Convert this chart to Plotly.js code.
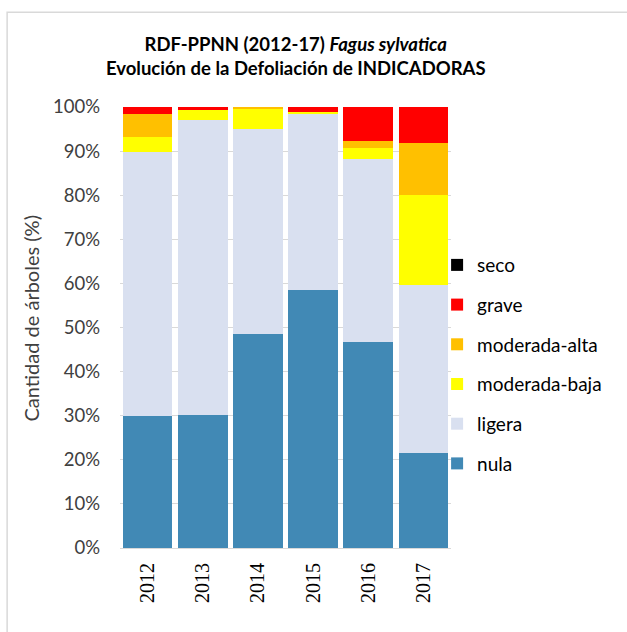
<!DOCTYPE html>
<html>
<head>
<meta charset="utf-8">
<script src="https://cdn.plot.ly/plotly-3.0.1.min.js"></script>
<style>html,body{margin:0;padding:0;background:#fff;}#chart{width:627px;height:632px;}</style>
</head>
<body>
<div id="chart"></div>
<script>
const years = ['2012', '2013', '2014', '2015', '2016', '2017'];
const nula = [30.0, 30.1, 48.5, 58.4, 46.8, 21.6];
const ligera = [59.8, 66.9, 46.6, 40.0, 41.5, 38.1];
const moderadaBaja = [3.5, 2.3, 4.5, 0.5, 2.3, 20.4];
const moderadaAlta = [5.1, 0.0, 0.4, 0.0, 1.7, 11.7];
const grave = [1.6, 0.7, 0.0, 1.1, 7.7, 8.2];
const seco = [0, 0, 0, 0, 0, 0];

const seriesNames = ['nula', 'ligera', 'moderada-baja', 'moderada-alta', 'grave', 'seco'];
const seriesValues = [nula, ligera, moderadaBaja, moderadaAlta, grave, seco];
const seriesColors = ['#4189b5', '#d9e0f0', '#ffff00', '#ffc000', '#ff0000', '#000000'];
const yTitle = 'Cantidad de árboles (%)';

const traces = seriesNames.map((n, i) => ({
  type: 'bar',
  name: n,
  x: years,
  y: seriesValues[i],
  marker: {color: seriesColors[i], line: {width: 0}},
  legendgroup: n,
  legendrank: 1000 - i,
  hoverinfo: 'x+y+name'
}));

const layout = {
  width: 627, height: 632,
  margin: {l: 120, r: 176, t: 107, b: 84},
  paper_bgcolor: '#ffffff', plot_bgcolor: '#ffffff',
  barmode: 'stack',
  bargap: 0.1,
  font: {family: 'Lato, sans-serif', color: '#404040'},
  title: {
    text: 'RDF-PPNN (2012-17) <i>Fagus sylvatica</i><br>Evolución de la Defoliación de INDICADORAS',
    font: {family: 'Lato, sans-serif', size: 18.5, color: '#000000', weight: 'bold'},
    x: 0.531, xanchor: 'center', xref: 'paper',
    y: 0.92, yanchor: 'top', yref: 'container'
  },
  xaxis: {
    type: 'category',
    range: [-0.5, 5.5],
    tickangle: -90,
    tickfont: {family: 'Liberation Serif, serif', size: 20, color: '#000000'},
    showline: true, linecolor: '#d9d9d9', linewidth: 1,
    showgrid: false, ticks: '', fixedrange: true,
    ticklabelstandoff: 6
  },
  yaxis: {
    range: [0, 100],
    dtick: 10,
    ticksuffix: '%',
    tickfont: {family: 'Lato, sans-serif', size: 18.5, color: '#404040'},
    showgrid: true, gridcolor: '#d9d9d9', gridwidth: 1,
    zeroline: false, showline: false, ticks: '',
    ticklabelstandoff: 19
  },
  annotations: [{
    text: yTitle, textangle: -90,
    xref: 'paper', yref: 'paper', x: -0.268, y: 0.521,
    xanchor: 'center', yanchor: 'middle', showarrow: false,
    font: {family: 'Lato, sans-serif', size: 20, color: '#404040'}
  }],
  legend: {
    traceorder: 'grouped',
    x: 0.958, xanchor: 'left',
    y: 0.416, yanchor: 'middle',
    bgcolor: 'rgba(0,0,0,0)',
    font: {family: 'Lato, sans-serif', size: 19, color: '#000000'},
    tracegroupgap: 12,
    itemwidth: 30
  },
  shapes: [{
    type: 'rect', xref: 'paper', yref: 'paper',
    x0: -0.341, x1: 2.0, y0: -1.0, y1: 1.215,
    line: {color: '#d9d9d9', width: 1.5}, layer: 'below'
  }],
  showlegend: true
};

Plotly.newPlot('chart', traces, layout, {displayModeBar: false, staticPlot: true});
</script>
</body>
</html>
